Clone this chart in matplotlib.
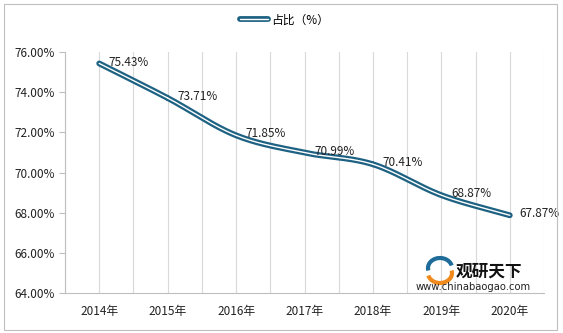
import numpy as np
import matplotlib
matplotlib.use('Agg')
import matplotlib.pyplot as plt
import matplotlib.patheffects as pe
from matplotlib.patches import Rectangle, Arc
from matplotlib.ticker import MultipleLocator, FuncFormatter

plt.rcParams['font.family'] = ['Noto Sans CJK SC', 'DejaVu Sans']

years = ['2014年', '2015年', '2016年', '2017年', '2018年', '2019年', '2020年']
share = [75.43, 73.71, 71.85, 70.99, 70.41, 68.87, 67.87]
labels = ['75.43%', '73.71%', '71.85%', '70.99%', '70.41%', '68.87%', '67.87%']

line_color = '#1E6283'
grid_color = '#D9D9D9'


# Excel-like smoothing (Catmull-Rom) between the data points, only for drawing
def smooth(x, y, n=30):
    x = np.asarray(x, float)
    y = np.asarray(y, float)
    px = np.concatenate([[2 * x[0] - x[1]], x, [2 * x[-1] - x[-2]]])
    py = np.concatenate([[2 * y[0] - y[1]], y, [2 * y[-1] - y[-2]]])
    xs, ys = [], []
    t = np.linspace(0, 1, n)
    for i in range(1, len(px) - 2):
        for p, out in ((px, xs), (py, ys)):
            p0, p1, p2, p3 = p[i - 1], p[i], p[i + 1], p[i + 2]
            out.extend(0.5 * ((2 * p1) + (-p0 + p2) * t
                              + (2 * p0 - 5 * p1 + 4 * p2 - p3) * t ** 2
                              + (-p0 + 3 * p1 - 3 * p2 + p3) * t ** 3))
    return np.array(xs), np.array(ys)


fig = plt.figure(figsize=(5.63, 3.33), dpi=100)
ax = fig.add_axes([65 / 563, 40 / 333, (544 - 65) / 563, (293 - 52) / 333])

x = np.arange(len(years))
sx, sy = smooth(x, share)
ax.plot(sx, sy, color='white', lw=1.0, label='占比（%）', solid_capstyle='round',
        path_effects=[pe.Stroke(linewidth=4.2, foreground=line_color, capstyle='round'),
                      pe.Normal()])

for xi, yi, lab in zip(x, share, labels):
    ax.annotate(lab, (xi, yi), xytext=(7, 1), textcoords='offset points',
                ha='left', va='center', fontsize=8.5, color='#222222')

ax.set_xlim(-0.5, len(years) - 0.5)
ax.set_ylim(64, 76)
ax.yaxis.set_major_locator(MultipleLocator(2))
ax.yaxis.set_major_formatter(FuncFormatter(lambda v, p: f'{v:.2f}%'))
ax.set_xticks(x)
ax.set_xticklabels(years)
ax.set_xticks(np.arange(-0.5, len(years), 1.0), minor=True)
ax.grid(True, axis='x', which='both', color=grid_color, lw=0.8)
ax.tick_params(axis='x', which='both', length=0, pad=9, labelsize=8.5, colors='#222222')
ax.tick_params(axis='y', length=4, color='#BFBFBF', labelsize=8.5, colors='#222222')
for s in ['top', 'right']:
    ax.spines[s].set_visible(False)
ax.spines['left'].set_color('#BFBFBF')
ax.spines['bottom'].set_color('#BFBFBF')

fig.legend(loc='center', bbox_to_anchor=(0.505, 0.94), frameon=False, fontsize=8.5,
           handlelength=2.4, handletextpad=0.2)

# watermark
fig.text(0.868, 0.168, '观研天下', fontsize=12, fontweight='bold', color='#111111', ha='center')
fig.text(0.840, 0.128, 'www.chinabaogao.com', fontsize=7.2, color='#222222', ha='center',
         family='DejaVu Sans')
fig.patches.append(Arc((440 / 563, 1 - 268 / 333), 24 / 563, 20 / 333, theta1=20, theta2=200,
                       color='#1E6C9A', lw=3, transform=fig.transFigure))
fig.patches.append(Arc((440 / 563, 1 - 273 / 333), 24 / 563, 20 / 333, theta1=200, theta2=380,
                       color='#F08A1C', lw=3, transform=fig.transFigure))

fig.patches.append(Rectangle((4 / 563, 3 / 333), 553 / 563, 326 / 333, fill=False,
                             edgecolor='#BFBFBF', lw=0.8, transform=fig.transFigure))

fig.savefig('out.png', dpi=100)
